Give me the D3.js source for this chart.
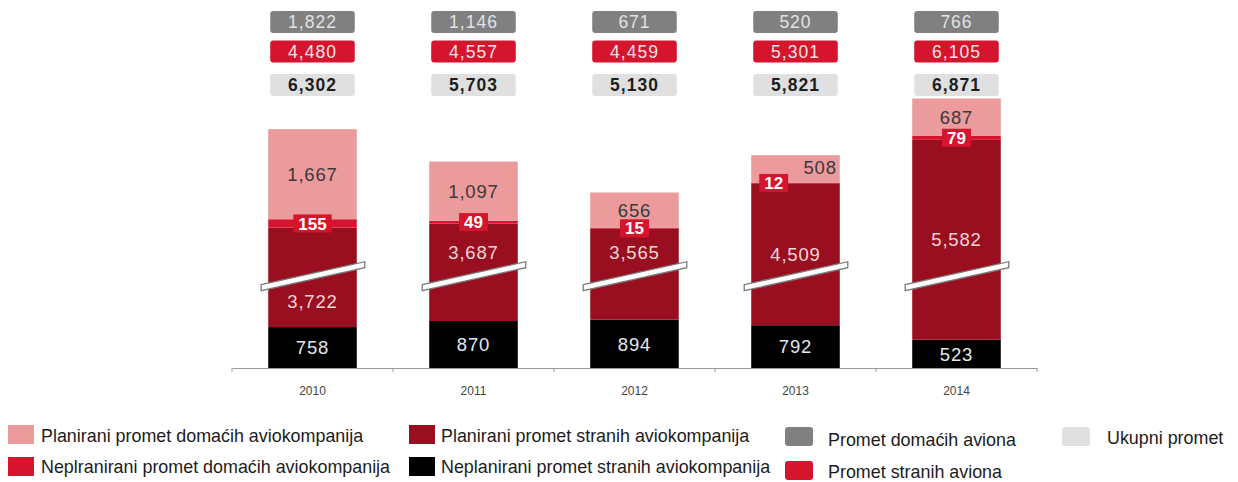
<!DOCTYPE html>
<html>
<head>
<meta charset="utf-8">
<script src="https://cdn.jsdelivr.net/npm/d3@7"></script>
<style>
  body { margin: 0; background: #fff; }
  text { font-family: "Liberation Sans", Arial, sans-serif; }
</style>
</head>
<body>
<svg id="chart" width="1238" height="482"></svg>
<script>
// values
var years = ["2010", "2011", "2012", "2013", "2014"];
var unplannedForeign = [758, 870, 894, 792, 523];       // Neplanirani promet stranih aviokompanija
var plannedForeign = [3722, 3687, 3565, 4509, 5582];    // Planirani promet stranih aviokompanija
var unplannedDomestic = [155, 49, 15, 12, 79];          // Neplranirani promet domaćih aviokompanija
var plannedDomestic = [1667, 1097, 656, 508, 687];      // Planirani promet domaćih aviokompanija
var domesticPlanes = [1822, 1146, 671, 520, 766];       // Promet domaćih aviona
var foreignPlanes = [4480, 4557, 4459, 5301, 6105];     // Promet stranih aviona
var totalTraffic = [6302, 5703, 5130, 5821, 6871];      // Ukupni promet

var legendNames = ["Planirani promet domaćih aviokompanija", "Neplranirani promet domaćih aviokompanija",
                   "Planirani promet stranih aviokompanija", "Neplanirani promet stranih aviokompanija",
                   "Promet domaćih aviona", "Promet stranih aviona", "Ukupni promet"];

var colors = {
  pd: "#ec9b9d", ud: "#d5142e", pf: "#9a0f1f", uf: "#000000",
  dom: "#808080", frn: "#d5142e", tot: "#e0e0e0"
};

// the large planned-foreign segment is drawn with a broken axis
var cut = 1880, breakAt = 1700;

var svg = d3.select("#chart");
var fmt = d3.format(",d");

var x = d3.scaleBand()
    .domain(years)
    .range([232, 1037])
    .paddingInner(0.45)
    .paddingOuter(0.225);

var y = d3.scaleLinear()
    .domain([0, 5000])
    .range([368, 98]);

var rows = years.map(function(yr, i) {
  return { year: yr, uf: unplannedForeign[i], pf: plannedForeign[i] - cut,
           ud: unplannedDomestic[i], pd: plannedDomestic[i], i: i };
});
var keys = ["uf", "pf", "ud", "pd"];
var series = d3.stack().keys(keys)(rows);

// bars
svg.append("g").selectAll("g")
    .data(series)
  .enter().append("g")
    .attr("fill", function(s) { return colors[s.key]; })
  .selectAll("rect")
    .data(function(s) { return s; })
  .enter().append("rect")
    .attr("x", function(d) { return x(d.data.year); })
    .attr("width", x.bandwidth())
    .attr("y", function(d) { return y(d[1]); })
    .attr("height", function(d) { return y(d[0]) - y(d[1]); });

// break marks
var by = y(breakAt);
svg.append("g").selectAll("polygon")
    .data(years)
  .enter().append("polygon")
    .attr("points", function(yr) {
      var x0 = x(yr) - 7, x1 = x(yr) + x.bandwidth() + 8;
      return [[x0, by + 8.5], [x1, by - 14.5], [x1, by - 8.5], [x0, by + 14.5]].join(" ");
    })
    .attr("fill", "#fff")
    .attr("stroke", "#7a7a7a")
    .attr("stroke-width", 1.3);

// labels inside bars
var lab = svg.append("g");
var byKey = {};
series.forEach(function(s) { byKey[s.key] = s; });

byKey.uf.forEach(function(d) {
  lab.append("text")
      .attr("x", x(d.data.year) + x.bandwidth() / 2)
      .attr("y", (y(d[0]) + y(d[1])) / 2)
      .attr("dy", "0.36em")
      .attr("text-anchor", "middle")
      .attr("fill", "#e4e8ec")
      .style("font-size", "18.5px")
      .style("letter-spacing", "0.8px")
      .text(fmt(unplannedForeign[d.data.i]));
});

byKey.pf.forEach(function(d) {
  var mid = (y(d[0]) + y(d[1])) / 2;
  if (Math.abs(mid - by) < 18) mid = mid > by ? by + 25 : by - 24;
  lab.append("text")
      .attr("x", x(d.data.year) + x.bandwidth() / 2)
      .attr("y", mid)
      .attr("dy", "0.36em")
      .attr("text-anchor", "middle")
      .attr("fill", "#efd6d8")
      .style("font-size", "18.5px")
      .style("letter-spacing", "0.8px")
      .text(fmt(plannedForeign[d.data.i]));
});

byKey.pd.forEach(function(d) {
  var thin = y(d[0]) - y(d[1]) < 30;
  lab.append("text")
      .attr("x", thin ? x(d.data.year) + x.bandwidth() - 3 : x(d.data.year) + x.bandwidth() / 2)
      .attr("y", (y(d[0]) + y(d[1])) / 2 - (thin ? 2 : 0))
      .attr("dy", "0.36em")
      .attr("text-anchor", thin ? "end" : "middle")
      .attr("fill", "#3a3a3a")
      .style("font-size", "18.5px")
      .style("letter-spacing", "0.8px")
      .text(fmt(plannedDomestic[d.data.i]));
});

byKey.ud.forEach(function(d, j) {
  var thin = y(byKey.pd[j][0]) - y(byKey.pd[j][1]) < 30;
  var cy = (y(d[0]) + y(d[1])) / 2;
  var g = lab.append("g");
  var t = g.append("text")
      .attr("y", cy)
      .attr("dy", "0.36em")
      .attr("text-anchor", "middle")
      .attr("fill", "#fff")
      .style("font-size", "17px")
      .style("font-weight", "bold")
      .text(fmt(unplannedDomestic[d.data.i]));
  var w = t.node().getComputedTextLength() + 10;
  var cx = thin ? x(d.data.year) + 8 + w / 2 : x(d.data.year) + x.bandwidth() / 2;
  t.attr("x", cx);
  g.insert("rect", "text")
      .attr("x", cx - w / 2)
      .attr("y", cy - 9)
      .attr("width", w)
      .attr("height", 18)
      .attr("fill", colors.ud);
});

// value boxes above the bars
var boxes = [
  { vals: domesticPlanes, fill: colors.dom, color: "#e2e2e2", weight: "normal", cy: 22 },
  { vals: foreignPlanes, fill: colors.frn, color: "#fbe4e6", weight: "normal", cy: 51.5 },
  { vals: totalTraffic, fill: colors.tot, color: "#1e1e1e", weight: "bold", cy: 85 }
];
boxes.forEach(function(b) {
  var g = svg.append("g");
  g.selectAll("rect")
      .data(years)
    .enter().append("rect")
      .attr("x", function(yr) { return x(yr) + 2; })
      .attr("y", b.cy - 11)
      .attr("width", x.bandwidth() - 4)
      .attr("height", 22)
      .attr("rx", 3)
      .attr("fill", b.fill);
  g.selectAll("text")
      .data(years)
    .enter().append("text")
      .attr("x", function(yr) { return x(yr) + x.bandwidth() / 2; })
      .attr("y", b.cy)
      .attr("dy", "0.36em")
      .attr("text-anchor", "middle")
      .attr("fill", b.color)
      .style("font-size", "17.5px")
      .style("font-weight", b.weight)
      .style("letter-spacing", "1px")
      .text(function(yr, i) { return fmt(b.vals[i]); });
});

// x axis
var axis = svg.append("g")
    .attr("transform", "translate(0," + y(0) + ")")
    .call(d3.axisBottom(x).tickSize(0).tickPadding(18));
axis.select(".domain").attr("stroke", "#9a9a9a").attr("stroke-width", 1.2);
axis.selectAll("text")
    .attr("fill", "#444")
    .style("font-size", "12px")
    .style("font-family", "'Liberation Sans', Arial, sans-serif");

var edges = years.map(function(yr) { return x(yr) - x.step() * x.paddingInner() / 2; });
edges.push(x(years[years.length - 1]) + x.bandwidth() + x.step() * x.paddingInner() / 2);
axis.selectAll(".edge")
    .data(edges)
  .enter().append("line")
    .attr("class", "edge")
    .attr("x1", function(d) { return d; })
    .attr("x2", function(d) { return d; })
    .attr("y1", 0)
    .attr("y2", 4)
    .attr("stroke", "#9a9a9a");

// legend
var legendItems = [
  { name: legendNames[0], color: colors.pd, sx: 8, sy: 425, tx: 41, ty: 436, rx: 0 },
  { name: legendNames[1], color: colors.ud, sx: 8, sy: 457, tx: 41, ty: 467, rx: 0 },
  { name: legendNames[2], color: colors.pf, sx: 409, sy: 425, tx: 441, ty: 436, rx: 0 },
  { name: legendNames[3], color: colors.uf, sx: 409, sy: 457, tx: 441, ty: 467, rx: 0 },
  { name: legendNames[4], color: colors.dom, sx: 785, sy: 427, tx: 828, ty: 440, rx: 3 },
  { name: legendNames[5], color: colors.frn, sx: 785, sy: 461, tx: 828, ty: 472, rx: 3 },
  { name: legendNames[6], color: colors.tot, sx: 1062, sy: 427, tx: 1107, ty: 438, rx: 3 }
];
var leg = svg.append("g").selectAll("g")
    .data(legendItems)
  .enter().append("g");
leg.append("rect")
    .attr("x", function(d) { return d.sx; })
    .attr("y", function(d) { return d.sy; })
    .attr("width", function(d) { return d.rx ? 28 : 26; })
    .attr("height", 19)
    .attr("rx", function(d) { return d.rx; })
    .attr("fill", function(d) { return d.color; });
leg.append("text")
    .attr("x", function(d) { return d.tx; })
    .attr("y", function(d) { return d.ty; })
    .attr("dy", "0.36em")
    .attr("fill", "#1c1c1c")
    .style("font-size", "17.9px")
    .text(function(d) { return d.name; });
</script>
</body>
</html>
